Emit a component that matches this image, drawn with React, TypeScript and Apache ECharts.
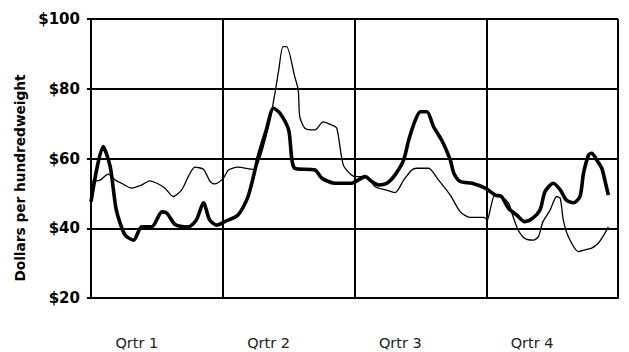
import React, { useEffect, useRef } from "react";
import * as echarts from "echarts";

// x = week of year (0..52), y = dollars per hundredweight
const heavyPrice: [number, number][] = [
  [0, 47.6], [1.2, 63.4], [1.9, 57.6], [2.5, 45.2], [3.35, 38.1], [4.2, 36.6], [5.0, 40.4], [6.0, 40.4],
  [7.0, 44.7], [7.5, 44.3], [8.3, 41.1], [9.6, 40.4], [10.4, 42.4], [11.1, 47.3], [11.7, 42.4], [12.4, 40.9],
  [13.2, 41.9], [14.5, 43.8], [15.5, 49.1], [16.5, 60.5], [17.3, 68.2], [18.0, 74.4], [18.65, 73.0], [19.5, 68.2],
  [20.1, 57.2], [22.1, 56.7], [22.8, 54.3], [24.1, 52.9], [25.7, 52.9], [27.05, 54.8], [27.7, 53.4], [28.4, 52.4],
  [29.2, 52.9], [30.0, 55.3], [30.85, 59.6], [31.35, 65.3], [32.0, 71.0], [32.5, 73.4], [33.15, 73.4], [33.8, 69.1],
  [34.6, 65.3], [35.45, 59.6], [35.8, 55.8], [36.45, 53.4], [37.6, 52.9], [38.9, 51.5], [39.9, 49.5], [40.5, 49.1],
  [41.2, 45.7], [42.0, 43.8], [42.8, 41.9], [43.6, 42.9], [44.3, 45.2], [44.8, 50.5], [45.6, 52.9], [46.3, 51.0],
  [46.9, 48.1], [47.6, 47.3], [48.25, 49.1], [48.6, 55.8], [49.1, 61.0], [49.4, 61.5], [49.9, 59.6], [50.4, 57.2],
  [50.7, 53.8], [51.05, 49.5],
];

const lightPrice: [number, number][] = [
  [0, 53.4], [0.9, 53.8], [1.7, 55.5], [2.4, 53.8], [3.0, 52.9], [4.0, 51.5], [5.0, 52.4], [5.8, 53.6],
  [6.5, 52.9], [7.3, 51.5], [8.1, 49.1], [8.95, 51.0], [9.6, 54.8], [10.25, 57.5], [11.1, 56.9], [11.75, 53.4],
  [12.2, 52.7], [13.05, 54.3], [13.55, 56.7], [14.5, 57.5], [16.0, 56.9], [16.7, 60.5], [17.65, 71.0], [18.15, 78.7],
  [18.5, 84.9], [18.95, 92.1], [19.3, 92.1], [20.1, 83.5], [20.45, 79.6], [20.6, 72.0], [21.1, 68.7], [22.1, 68.2],
  [22.9, 70.5], [23.75, 69.6], [24.25, 68.7], [24.9, 58.1], [25.7, 55.3], [26.2, 54.8], [27.2, 54.8], [28.05, 51.9],
  [29.05, 51.0], [30.0, 50.2], [30.85, 53.8], [31.65, 56.7], [32.15, 57.2], [33.3, 57.2], [34.3, 53.8], [35.45, 49.5],
  [36.45, 44.7], [37.4, 43.1], [38.75, 43.1], [39.1, 42.4], [39.4, 45.5], [39.85, 49.5], [40.5, 49.1], [41.2, 47.2],
  [41.65, 43.3], [42.15, 39.5], [42.8, 37.1], [43.65, 36.6], [44.15, 37.6], [44.6, 41.9], [45.3, 45.2], [45.95, 49.1],
  [46.3, 48.6], [46.6, 42.4], [47.1, 37.6], [48.1, 33.3], [48.75, 33.8], [49.4, 34.3], [50.05, 35.7], [50.55, 37.8],
  [51.05, 40.4],
];

const quarterLabels = ["Qrtr 1", "Qrtr 2", "Qrtr 3", "Qrtr 4"];
const yTicks = { min: 20, max: 100, step: 20 };
const weeks = { min: 0, max: 52, step: 13 };
const yAxisTitle = "Dollars per hundredweight";

export default function App() {
  const ref = useRef<HTMLDivElement>(null);
  useEffect(() => {
    if (!ref.current) return;
    const chart = echarts.init(ref.current, null, { renderer: "svg" });
    const black = "#000";
    chart.setOption({
      animation: false,
      backgroundColor: "#fff",
      grid: { left: 91, right: 11, top: 19, bottom: 54, containLabel: false },
      xAxis: [
        {
          type: "value",
          min: weeks.min,
          max: weeks.max,
          interval: weeks.step,
          axisLine: { show: true, lineStyle: { color: black, width: 2 } },
          axisTick: { show: false },
          axisLabel: { show: false },
          splitLine: { show: true, lineStyle: { color: black, width: 2 } },
        },
        {
          type: "category",
          position: "bottom",
          data: quarterLabels,
          boundaryGap: true,
          axisLine: { show: false },
          axisTick: { show: false },
          splitLine: { show: false },
          axisLabel: {
            margin: 37,
            color: "#222",
            fontFamily: "DejaVu Sans",
            fontSize: 14.5,
            padding: [0, 40, 0, 0],
          },
        },
      ],
      yAxis: {
        type: "value",
        min: yTicks.min,
        max: yTicks.max,
        interval: yTicks.step,
        axisLine: { show: true, lineStyle: { color: black, width: 2 } },
        axisTick: { show: true, length: 4, lineStyle: { color: black, width: 2 } },
        axisLabel: {
          margin: 11,
          color: black,
          fontFamily: "DejaVu Sans",
          fontWeight: "bold",
          fontSize: 15,
          formatter: (v: number) => "$" + v,
        },
        splitLine: { show: true, lineStyle: { color: black, width: 2 } },
      },
      graphic: [
        {
          type: "text",
          x: 20,
          y: 178,
          rotation: Math.PI / 2,
          style: {
            text: yAxisTitle,
            fill: black,
            font: "bold 13.7px 'DejaVu Sans'",
            align: "center",
            verticalAlign: "middle",
            textAlign: "center",
            textVerticalAlign: "middle",
          },
        },
      ],
      series: [
        {
          type: "line",
          xAxisIndex: 0,
          data: lightPrice,
          showSymbol: false,
          smooth: 0.25,
          lineStyle: { color: black, width: 1.3 },
          z: 3,
        },
        {
          type: "line",
          xAxisIndex: 0,
          data: heavyPrice,
          showSymbol: false,
          smooth: 0.25,
          lineStyle: { color: black, width: 3.6 },
          z: 4,
        },
      ],
    });
    return () => chart.dispose();
  }, []);
  return <div ref={ref} style={{ width: 629, height: 352, position: "absolute", left: 0, top: 0 }} />;
}
